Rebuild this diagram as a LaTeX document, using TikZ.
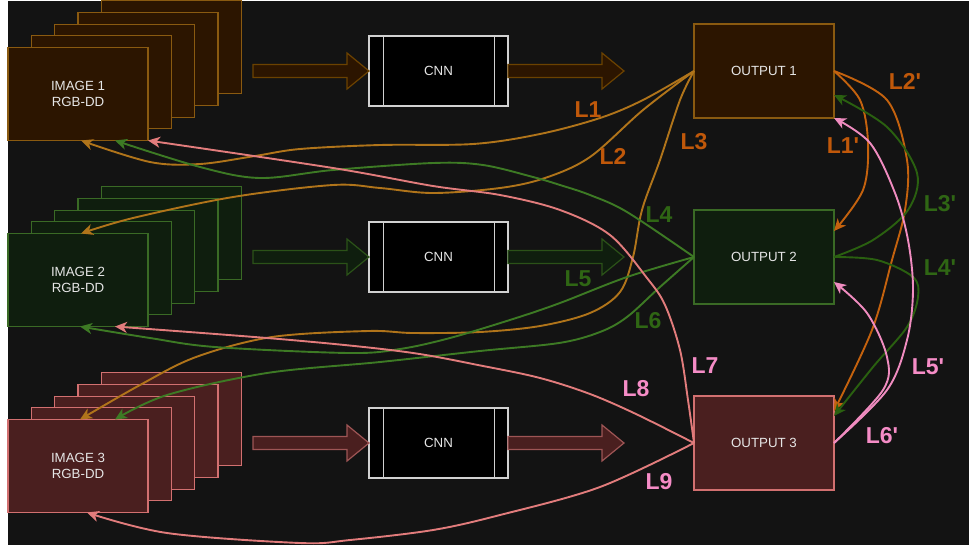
\documentclass[tikz,border=0pt]{standalone}
\usepackage{fontspec}
\setmainfont{Liberation Sans}
\usetikzlibrary{arrows.meta}

% palette
\definecolor{bg}{HTML}{131313}
\definecolor{txt}{HTML}{E6E6E6}
\definecolor{oFill}{HTML}{2C1500}
\definecolor{oLine}{HTML}{8A5A10}
\definecolor{oArrow}{HTML}{6B4200}
\definecolor{gFill}{HTML}{0F1E0E}
\definecolor{gLine}{HTML}{3A6A25}
\definecolor{gArrow}{HTML}{2B5218}
\definecolor{rFill}{HTML}{4A1F1F}
\definecolor{rLine}{HTML}{D27070}
\definecolor{rArrow}{HTML}{9E5555}
\definecolor{cAmber}{HTML}{B0741A}
\definecolor{cOrange}{HTML}{C4620E}
\definecolor{cGreen}{HTML}{3D7A24}
\definecolor{cDGreen}{HTML}{2A6010}
\definecolor{cSalmon}{HTML}{E27C7C}
\definecolor{cPink}{HTML}{F08CC0}
\definecolor{tOrange}{HTML}{C0580A}
\definecolor{tGreen}{HTML}{2F6614}
\definecolor{tPink}{HTML}{F58CC6}

% wide block arrow: style, x start, x tip, y centre
\newcommand\blockarrow[4]{%
  \draw[#1] (#2,{#4-6.5}) -- ({#3-22},{#4-6.5}) -- ({#3-22},{#4-18})
    -- (#3,#4) -- ({#3-22},{#4+18}) -- ({#3-22},{#4+6.5}) -- (#2,{#4+6.5}) -- cycle;}

\begin{document}
\begin{tikzpicture}[x=1pt,y=-1pt,
  boxtext/.style={text=txt,font=\fontsize{13.3}{16}\selectfont,align=center},
  frame/.style={rectangle,line width=1.2pt,minimum width=140pt,minimum height=93pt,outer sep=0pt,boxtext},
  imgO/.style={frame,draw=oLine,fill=oFill},
  imgG/.style={frame,draw=gLine,fill=gFill},
  imgR/.style={frame,draw=rLine,fill=rFill},
  outO/.style={imgO,minimum height=94pt},
  outG/.style={imgG,minimum height=94pt},
  outR/.style={imgR,minimum height=94pt},
  cnn/.style={rectangle,draw=white!82!black,fill=black,line width=1.2pt,minimum width=139pt,minimum height=70pt,outer sep=0pt,boxtext},
  fatO/.style={draw=oArrow,fill=oFill,line width=1.2pt,line join=miter},
  fatG/.style={draw=gArrow,fill=gFill,line width=1.2pt,line join=miter},
  fatR/.style={draw=rArrow,fill=rFill,line width=1.2pt,line join=miter},
  link/.style={line width=1.9pt,-{Stealth[length=12pt,width=11pt,inset=3.5pt]}},
  labO/.style={text=tOrange,font=\fontsize{23}{26}\bfseries\selectfont},
  labG/.style={text=tGreen,font=\fontsize{23}{26}\bfseries\selectfont},
  labP/.style={text=tPink,font=\fontsize{23}{26}\bfseries\selectfont}]

\useasboundingbox (0,0) rectangle (969,547);
\fill[white] (0,0) rectangle (969,547);
\fill[bg] (8,1) rectangle (969,545);

% image stacks
\foreach \k in {4,3,2,1} {
  \node[imgO] (img1b\k) at ({78+23.3*\k},{94-11.7*\k}) {};
  \node[imgG] (img2b\k) at ({78+23.3*\k},{280-11.7*\k}) {};
  \node[imgR] (img3b\k) at ({78+23.3*\k},{466-11.7*\k}) {};
}
\node[imgO] (img1) at (78,94) {IMAGE 1\\RGB-DD};
\node[imgG] (img2) at (78,280) {IMAGE 2\\RGB-DD};
\node[imgR] (img3) at (78,466) {IMAGE 3\\RGB-DD};

% CNN blocks
\foreach \r/\y in {1/71,2/257,3/443} {
  \node[cnn] (cnn\r) at (438.5,\y) {CNN};
  \draw[white!82!black,line width=1pt]
    ([xshift=14pt]cnn\r.north west) -- ([xshift=14pt]cnn\r.south west)
    ([xshift=-14pt]cnn\r.north east) -- ([xshift=-14pt]cnn\r.south east);
}

% outputs
\node[outO] (out1) at (764,71) {OUTPUT 1};
\node[outG] (out2) at (764,257) {OUTPUT 2};
\node[outR] (out3) at (764,443) {OUTPUT 3};

% block arrows
\blockarrow{fatO}{253}{369}{71}
\blockarrow{fatO}{508}{624}{71}
\blockarrow{fatG}{253}{369}{257}
\blockarrow{fatG}{508}{624}{257}
\blockarrow{fatR}{253}{369}{443}
\blockarrow{fatR}{508}{624}{443}

% feedback links from OUTPUT 1
\draw[link,cAmber] plot[smooth,tension=0.55] coordinates {(out1.west) (643,100) (600,118) (540,134) (473,144) (380,145) (300,149) (255,156) (200,164) (150,162) ([xshift=3pt]img1.south)};
\draw[link,cAmber] plot[smooth,tension=0.55] coordinates {(out1.west) (643,110) (590,157) (545,178) (500,188) (433,193) (380,188) (333,185) (233,197) (133,218) ([xshift=3pt]img2.north)};
\draw[link,cAmber] plot[smooth,tension=0.55] coordinates {(out1.west) (680,100) (660,160) (642,210) (633,257) (620,292) (590,313) (540,326) (480,332) (413,333) (368,331) (272,337) (196,357) (140,385) ([xshift=2pt]img3.north)};

% feedback links from OUTPUT 2
\draw[link,cGreen] plot[smooth,tension=0.55] coordinates {(out2.west) (627,212) (590,195) (560,185) (533,177) (483,165) (433,163) (333,170) (260,178) (200,167) ([xshift=37pt]img1.south)};
\draw[link,cGreen] plot[smooth,tension=0.55] coordinates {(out2.west) (627,277) (560,303) (513,319) (450,338) (400,349) (349,353) (215,347) (150,338) ([xshift=2pt]img2.south)};
\draw[link,cGreen] plot[smooth,tension=0.55] coordinates {(out2.west) (660,287) (627,317) (600,332) (559,343) (480,351) (380,362) (267,373) (167,395) ([xshift=37pt]img3.north)};

% feedback links from OUTPUT 3
\draw[link,cSalmon] plot[smooth,tension=0.55] coordinates {(out3.west) (688,400) (680,350) (665,305) (647,278) (610,235) (560,210) (500,195) (433,186) (333,168) (img1.south east)};
\draw[link,cSalmon] plot[smooth,tension=0.55] coordinates {(out3.west) (636,414) (590,394) (540,378) (483,366) (406,352) (291,340) ([xshift=37pt]img2.south)};
\draw[link,cSalmon] plot[smooth,tension=0.55] coordinates {(out3.west) (600,487) (500,515) (433,530) (350,540) (300,543) (167,533) ([xshift=9pt]img3.south)};

% links between outputs
\draw[link,cOrange] plot[smooth,tension=0.55] coordinates {(out1.east) (860,100) (868,143) (863,190) ([yshift=-21pt]out2.north east)};
\draw[link,cOrange] plot[smooth,tension=0.55] coordinates {(out1.east) (887,100) (907,160) (905,210) (892,260) (872,330) ([yshift=-15pt]out3.north east)};
\draw[link,cDGreen] plot[smooth,tension=0.55] coordinates {(out2.east) (873,240) (908,210) (917,173) (887,127) ([yshift=-24pt]out1.east)};
\draw[link,cDGreen] plot[smooth,tension=0.55] coordinates {(out2.east) (877,260) (913,277) (918,297) (907,327) (873,367) ([yshift=-20pt]out3.north east)};
\draw[link,cPink] plot[smooth,tension=0.55] coordinates {(out3.east) (887,390) (907,340) (913,290) (908,240) (895,193) (870,143) (out1.south east)};
\draw[link,cPink] plot[smooth,tension=0.55] coordinates {(out3.east) (883,390) (887,357) (867,313) ([yshift=-25pt]out2.east)};

% link labels
\node[labO] (l1) at (588,110) {L1};
\node[labO] (l2) at (613,156) {L2};
\node[labO] (l3) at (694,142) {L3};
\node[labG] (l4) at (659,215) {L4};
\node[labG] (l5) at (578,279) {L5};
\node[labG] (l6) at (648,321) {L6};
\node[labP] (l7) at (705,366) {L7};
\node[labP] (l8) at (636,389) {L8};
\node[labP] (l9) at (659,482) {L9};
\node[labO] (l1p) at (843,146) {L1\textquotesingle};
\node[labO] (l2p) at (905,81) {L2\textquotesingle};
\node[labG] (l3p) at (940,204) {L3\textquotesingle};
\node[labG] (l4p) at (940,268) {L4\textquotesingle};
\node[labP] (l5p) at (928,367) {L5\textquotesingle};
\node[labP] (l6p) at (882,436) {L6\textquotesingle};
\end{tikzpicture}
\end{document}
